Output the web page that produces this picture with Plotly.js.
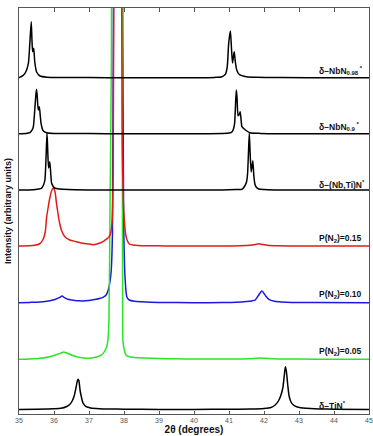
<!DOCTYPE html>
<html><head><meta charset="utf-8">
<script src="https://cdn.plot.ly/plotly-3.0.1.min.js"></script>
<style>html,body{margin:0;padding:0;background:#fff}</style>
</head><body><div id="chart" style="width:373px;height:436px"></div>
<script>
// ---- data (2θ in degrees, intensity in arbitrary units above each pattern's baseline) ----
const tinX = [35,35.5,36.0,36.2,36.35,36.45,36.52,36.58,36.63,36.67,36.69,36.71,36.75,36.78,36.83,36.92,37.05,37.3,37.6,38,39,40,41,41.6,42.0,42.2,42.32,42.42,42.49,42.54,42.58,42.61,42.64,42.68,42.72,42.78,42.84,42.95,43.2,43.6,44,45];
const tinY = [0,0.3,0.8,1.3,2.8,5,8.5,14,22,29,30.2,29,18,13,6.5,2.8,1.5,0.8,0.5,0.3,0.1,0.1,0.2,0.4,1,2,4.5,9,15,22,34,42.8,38,24,13,7,4.5,2.5,1.2,0.6,0.3,0];

const p05X = [35,35.3,35.6,35.88,36.0,36.1,36.2,36.28,36.35,36.45,36.55,36.64,36.8,37.02,37.15,37.3,37.38,37.44,37.50,37.54,37.57,37.60,37.64,37.68,37.80,37.93,37.95,37.96,37.97,38.01,38.06,38.15,38.24,38.4,38.6,39,39.5,40,40.5,41,41.4,41.7,41.9,42.1,42.4,43,44,45];
const p05Y = [0,0.3,1,2.6,3.8,5,6.3,7.3,6.5,5,3.6,2.6,1.6,1,1.8,3.3,5,7.6,12,19,40,150,300,800,1500,800,300,60,18,9,4,2.5,2,1.5,1.2,0.8,0.5,0.3,0.2,0.2,0.4,0.8,1.2,0.8,0.4,0.2,0,0];

const p10X = [35,35.3,35.6,35.88,36.05,36.15,36.23,36.3,36.4,36.55,36.7,36.83,37.0,37.2,37.3,37.4,37.49,37.56,37.63,37.67,37.71,37.85,37.95,37.99,38.03,38.08,38.15,38.3,38.5,39,40,40.8,41.2,41.5,41.65,41.75,41.85,41.94,42.05,42.15,42.3,42.5,42.8,43.5,45];
const p10Y = [0,0.3,0.7,2,3.5,5,6.7,5,3.4,2.4,2,1.7,2.2,3.4,4.2,5.4,7.7,14,30,70,400,900,400,80,25,6,2.7,1.5,1,0.3,0,0.2,0.5,1.2,1.8,2.7,7.7,11.7,6.7,3,1.5,0.8,0.3,0.1,0];

const p15X = [35,35.3,35.45,35.58,35.68,35.75,35.79,35.84,35.88,35.94,35.99,36.03,36.07,36.12,36.16,36.22,36.31,36.45,36.64,36.83,37.0,37.11,37.25,37.40,37.49,37.56,37.62,37.66,37.69,37.72,37.82,37.92,37.95,37.98,38.01,38.06,38.1,38.15,38.25,38.4,38.7,39.2,40,40.8,41.3,41.6,41.75,41.85,41.95,42.1,42.4,43,44,45];
const p15Y = [0,0.3,0.7,2,6,14,29,40,48,56,58,54,43,31,23,15,9.3,6,4.3,2.7,2,1.3,2.2,4.3,6.7,8.5,13,25,70,400,900,400,100,45,25,9.3,5,2,1,0.5,0.2,0.1,0,0,0.3,0.8,1.5,2.2,1.6,0.8,0.3,0.1,0,0];

const nbtiX = [35,35.4,35.56,35.64,35.70,35.74,35.77,35.80,35.82,35.845,35.88,35.91,35.93,35.97,36.02,36.16,36.4,37,38,39,40,40.8,41.2,41.37,41.45,41.50,41.53,41.555,41.58,41.60,41.635,41.68,41.71,41.74,41.77,41.85,42.0,42.3,43,45];
const nbtiY = [0,0.2,1,1.7,5,10,30,57,40,22,28.3,15,7,4,2,1,0.4,0.1,0,0,0,0.1,0.4,0.7,4,8,16,36,57,40,18,29.3,14,6,3.3,1,0.4,0.1,0,0];

const nb09X = [35,35.2,35.31,35.38,35.41,35.45,35.48,35.50,35.52,35.55,35.58,35.61,35.63,35.69,35.79,36.0,37,38,39,40,40.8,41.0,41.09,41.13,41.16,41.19,41.21,41.23,41.26,41.29,41.32,41.35,41.37,41.47,41.6,41.9,43,45];
const nb09Y = [0,0.2,1,4,7,23.7,38,44.4,38,23.7,27,17,10.4,3,1,0.3,0.1,0,0,0,0.2,0.6,2,5,10.4,32,43.7,36,18,19,22,12,7,3.7,1,0.3,0,0];

const nb98X = [35,35.03,35.10,35.17,35.22,35.27,35.31,35.35,35.37,35.39,35.42,35.45,35.50,35.60,35.8,36.2,37,38,39,40,40.6,40.8,40.90,40.95,40.99,41.04,41.07,41.10,41.13,41.15,41.18,41.22,41.30,41.5,41.8,42.5,44,45];
const nb98Y = [0,0.5,1.8,4.4,8,14.7,34.7,56,38,26,29.4,16,6,1.7,0.5,0.2,0.1,0,0,0,0.3,1,3.5,11,34,46.7,30,14.7,22,26,16,7.7,3,1,0.4,0.1,0,0];

// pattern labels (listed bottom to top), baselines
const labels = ['δ−TiN<sup>*</sup>','P(N<sub>2</sub>)=0.05','P(N<sub>2</sub>)=0.10','P(N<sub>2</sub>)=0.15','δ−(Nb,Ti)N<sup>*</sup>','δ−NbN<sub>0.9</sub><sup> *</sup>','δ−NbN<sub>0.98</sub><sup> *</sup>'];
const offsets = [4.5, 54.7, 111.3, 168, 224, 280.3, 336.3];
const labelY = [9, 63, 119.3, 176, 230, 288, 344];

// ---- traces ----
const series = [
  {x: p10X, y: p10Y, off: offsets[2], color: 'rgb(25,25,225)'},
  {x: p05X, y: p05Y, off: offsets[1], color: 'rgb(40,230,40)'},
  {x: p15X, y: p15Y, off: offsets[3], color: 'rgb(230,25,25)'},
  {x: tinX, y: tinY, off: offsets[0], color: '#000'},
  {x: nbtiX, y: nbtiY, off: offsets[4], color: '#000'},
  {x: nb09X, y: nb09Y, off: offsets[5], color: '#000'},
  {x: nb98X, y: nb98Y, off: offsets[6], color: '#000'}
];
const traces = series.map(s => ({
  type: 'scatter', mode: 'lines',
  x: s.x, y: s.y.map(v => v + s.off),
  line: {color: s.color, width: 1.5, shape: 'spline', smoothing: 0.6},
  hoverinfo: 'skip', showlegend: false
}));

const annotations = labels.map((t, i) => ({
  x: 43.5, y: labelY[i], xref: 'x', yref: 'y',
  text: '<b>' + t + '</b>', showarrow: false,
  xanchor: 'left', yanchor: 'middle',
  font: {family: 'Liberation Sans, Arial, sans-serif', size: 8.5, color: '#111'}
}));

const layout = {
  width: 373, height: 436,
  margin: {l: 19, r: 4, t: 8, b: 22, pad: 0},
  paper_bgcolor: '#fff', plot_bgcolor: '#fff',
  font: {family: 'Liberation Sans, Arial, sans-serif'},
  xaxis: {
    range: [35, 45], dtick: 1, tick0: 35, ticks: 'inside', ticklen: 3.5, tickwidth: 1, tickcolor: '#555',
    showline: true, linecolor: '#555', linewidth: 1, mirror: 'ticks',
    showgrid: false, zeroline: false, automargin: false, ticklabeloverflow: 'allow',
    tickfont: {size: 7, color: '#555'},
    title: {text: '<b>2θ (degrees)</b>', font: {size: 10, color: '#111'}, standoff: 1}
  },
  yaxis: {
    range: [0, 406], showticklabels: false, ticks: '',
    showline: true, linecolor: '#555', linewidth: 1, mirror: true,
    showgrid: false, zeroline: false, automargin: false,
    title: {text: '<b>Intensity (arbitrary units)</b>', font: {size: 9, color: '#111'}, standoff: 4}
  },
  annotations: annotations
};

Plotly.newPlot('chart', traces, layout, {staticPlot: true, displayModeBar: false});
</script></body></html>
